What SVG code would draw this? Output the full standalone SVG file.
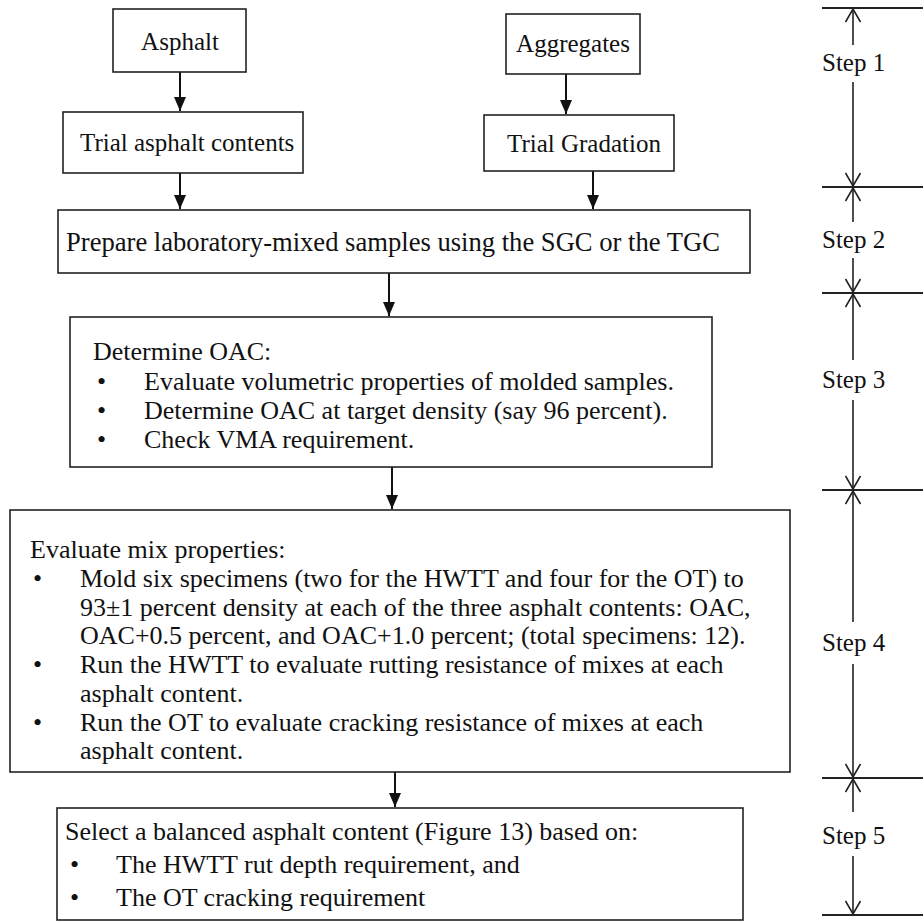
<svg xmlns="http://www.w3.org/2000/svg" width="923" height="924" viewBox="0 0 923 924">
<style>
  .box { fill: #fff; stroke: #222; stroke-width: 1.6; }
  text { font-family: "Liberation Serif", "Times New Roman", serif; font-size: 26px; fill: #111; }
  .mid { text-anchor: middle; }
  .sm { font-size: 25px; }
  .lg { font-size: 26.6px; }
  .lbl { font-size: 25px; }
  .flow { stroke: #111; stroke-width: 2; fill: none; marker-end: url(#solid); }
  .step { stroke: #222; stroke-width: 1.6; fill: none; marker-end: url(#open); }
  .sep { stroke: #222; stroke-width: 2; }
</style>
<defs>
  <marker id="solid" viewBox="0 0 14 12" refX="14" refY="6" markerUnits="userSpaceOnUse" markerWidth="14" markerHeight="12" orient="auto">
    <path d="M0,0 L14,6 L0,12 Z" fill="#111"/>
  </marker>
  <marker id="open" viewBox="-1 -1 15 17" refX="13" refY="7.5" markerUnits="userSpaceOnUse" markerWidth="15" markerHeight="17" orient="auto">
    <path d="M0,0 L13,7.5 L0,15" fill="none" stroke="#222" stroke-width="1.6"/>
  </marker>
</defs>

<g id="connectors">
  <line class="flow" x1="180" y1="72" x2="180" y2="111"/>
  <line class="flow" x1="566" y1="74" x2="566" y2="114"/>
  <line class="flow" x1="180" y1="173" x2="180" y2="209"/>
  <line class="flow" x1="593" y1="171" x2="593" y2="209"/>
  <line class="flow" x1="389" y1="273" x2="389" y2="316"/>
  <line class="flow" x1="392" y1="467" x2="392" y2="509"/>
  <line class="flow" x1="395" y1="772" x2="395" y2="807"/>
</g>

<g id="asphalt">
  <rect class="box" x="113" y="9" width="133" height="63"/>
  <text class="mid sm" x="180" y="50">Asphalt</text>
</g>
<g id="aggregates">
  <rect class="box" x="506" y="14" width="134" height="60"/>
  <text class="mid sm" x="573" y="52">Aggregates</text>
</g>
<g id="trial-asphalt">
  <rect class="box" x="63" y="112" width="240" height="61"/>
  <text class="sm" x="80" y="151">Trial asphalt contents</text>
</g>
<g id="trial-gradation">
  <rect class="box" x="484" y="115" width="190" height="56"/>
  <text class="sm" x="507" y="152">Trial Gradation</text>
</g>
<g id="prepare">
  <rect class="box" x="58" y="210" width="692" height="63"/>
  <text class="lg" x="66" y="251">Prepare laboratory-mixed samples using the SGC or the TGC</text>
</g>
<g id="oac">
  <rect class="box" x="70" y="317" width="642" height="150"/>
  <text x="93" y="360">Determine OAC:</text>
  <text x="97" y="390">•</text><text x="144" y="390">Evaluate volumetric properties of molded samples.</text>
  <text x="97" y="419">•</text><text x="144" y="419">Determine OAC at target density (say 96 percent).</text>
  <text x="97" y="448">•</text><text x="144" y="448">Check VMA requirement.</text>
</g>
<g id="evaluate">
  <rect class="box" x="10" y="510" width="780" height="262"/>
  <text x="30" y="558">Evaluate mix properties:</text>
  <text x="33" y="587">•</text><text x="80" y="587">Mold six specimens (two for the HWTT and four  for the OT) to</text>
  <text x="80" y="616">93±1 percent density at each of the three asphalt contents: OAC,</text>
  <text x="80" y="644">OAC+0.5 percent, and OAC+1.0 percent; (total specimens: 12).</text>
  <text x="33" y="673">•</text><text x="80" y="673">Run the HWTT to evaluate rutting resistance of mixes at each</text>
  <text x="80" y="702">asphalt content.</text>
  <text x="33" y="731">•</text><text x="80" y="731">Run the OT to evaluate cracking resistance of mixes at each</text>
  <text x="80" y="759">asphalt content.</text>
</g>
<g id="select">
  <rect class="box" x="57" y="808" width="686" height="112"/>
  <text x="65" y="840">Select a balanced asphalt content (Figure 13) based on:</text>
  <text x="70" y="873">•</text><text x="116" y="873">The HWTT rut depth requirement, and</text>
  <text x="70" y="906">•</text><text x="116" y="906">The OT cracking requirement</text>
</g>

<g id="steps">
  <line class="sep" x1="822" y1="8" x2="923" y2="8"/>
  <line class="sep" x1="822" y1="187" x2="923" y2="187"/>
  <line class="sep" x1="822" y1="293" x2="923" y2="293"/>
  <line class="sep" x1="822" y1="490" x2="923" y2="490"/>
  <line class="sep" x1="822" y1="778" x2="923" y2="778"/>
  <line class="sep" x1="822" y1="915" x2="923" y2="915"/>

  <line class="step" x1="853" y1="45" x2="853" y2="9"/>
  <text class="lbl" x="822" y="71">Step 1</text>
  <line class="step" x1="853" y1="82" x2="853" y2="186"/>

  <line class="step" x1="853" y1="222" x2="853" y2="188"/>
  <text class="lbl" x="822" y="248">Step 2</text>
  <line class="step" x1="853" y1="258" x2="853" y2="292"/>

  <line class="step" x1="853" y1="360" x2="853" y2="294"/>
  <text class="lbl" x="822" y="388">Step 3</text>
  <line class="step" x1="853" y1="400" x2="853" y2="489"/>

  <line class="step" x1="853" y1="622" x2="853" y2="491"/>
  <text class="lbl" x="822" y="651">Step 4</text>
  <line class="step" x1="853" y1="664" x2="853" y2="777"/>

  <line class="step" x1="853" y1="812" x2="853" y2="779"/>
  <text class="lbl" x="822" y="844">Step 5</text>
  <line class="step" x1="853" y1="856" x2="853" y2="914"/>
</g>
</svg>
